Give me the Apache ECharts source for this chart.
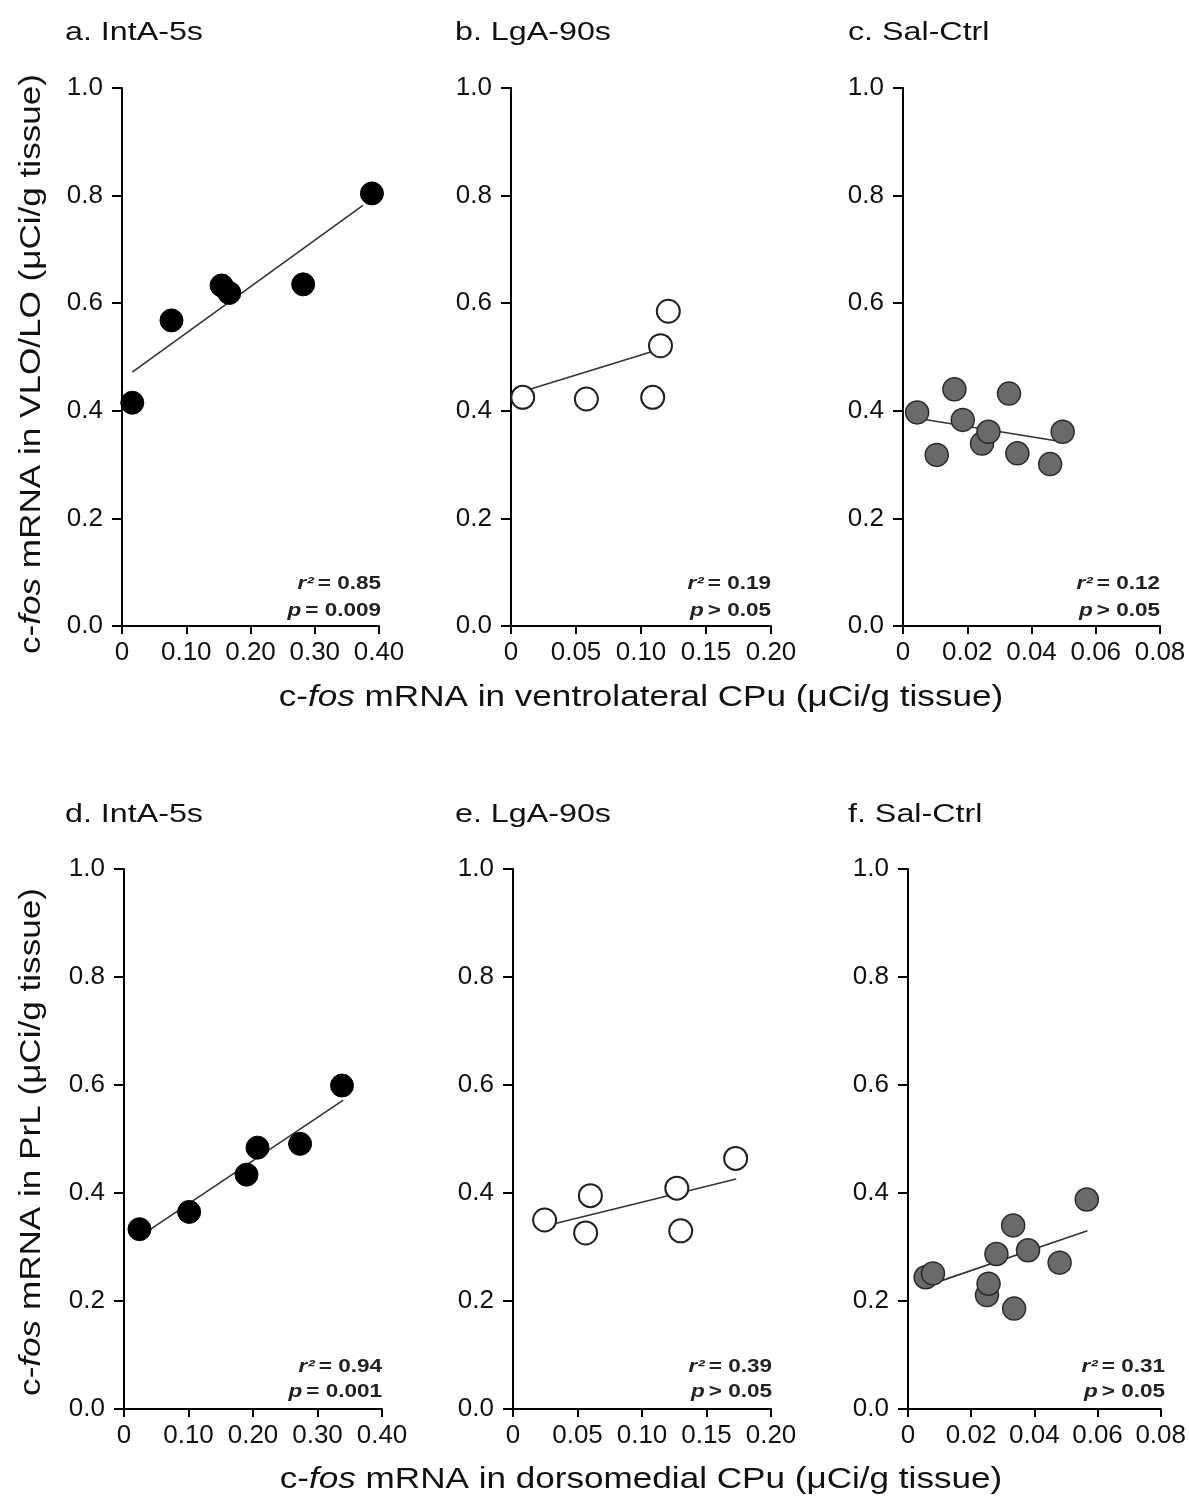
<!DOCTYPE html>
<html><head><meta charset="utf-8">
<script src="https://cdn.jsdelivr.net/npm/echarts@6/dist/echarts.min.js"></script>
<style>html,body{margin:0;padding:0;background:#fff}#c{width:1189px;height:1501px}</style>
</head><body><div id="c"></div>
<script>
// ---- data ----
const panelTitles = ['a. IntA-5s','b. LgA-90s','c. Sal-Ctrl','d. IntA-5s','e. LgA-90s','f. Sal-Ctrl'];
const yTitleTop = ['c-','fos',' mRNA in VLO/LO (μCi/g tissue)'];
const yTitleBottom = ['c-','fos',' mRNA in PrL (μCi/g tissue)'];
const xTitleTop = ['c-','fos',' mRNA in ventrolateral CPu (μCi/g tissue)'];
const xTitleBottom = ['c-','fos',' mRNA in dorsomedial CPu (μCi/g tissue)'];

const aX = [0.016,0.077,0.155,0.167,0.282,0.389];
const aY = [0.415,0.568,0.633,0.619,0.635,0.804];
const aFitX = [0.016,0.375], aFitY = [0.472,0.782];

const bX = [0.009,0.058,0.109,0.115,0.121];
const bY = [0.425,0.422,0.425,0.521,0.585];
const bFitX = [0.012,0.110], bFitY = [0.438,0.511];

const cX = [0.0044,0.0105,0.016,0.0186,0.0246,0.0266,0.033,0.0356,0.0458,0.0497];
const cY = [0.397,0.318,0.44,0.383,0.339,0.361,0.432,0.321,0.301,0.361];
const cFitX = [0.0044,0.049], cFitY = [0.386,0.343];

const dX = [0.024,0.101,0.190,0.207,0.273,0.338];
const dY = [0.333,0.365,0.434,0.484,0.491,0.599];
const dFitX = [0.035,0.34], dFitY = [0.328,0.572];

const eX = [0.0245,0.060,0.0563,0.127,0.130,0.1726];
const eY = [0.350,0.395,0.326,0.409,0.330,0.464];
const eFitX = [0.032,0.173], eFitY = [0.343,0.426];

const fX = [0.0056,0.0079,0.025,0.0255,0.028,0.0333,0.0336,0.038,0.048,0.0566];
const fY = [0.244,0.251,0.211,0.232,0.287,0.340,0.186,0.294,0.271,0.388];
const fFitX = [0.0058,0.0568], fFitY = [0.228,0.330];

const r2Vals = ['0.85','0.19','0.12','0.94','0.39','0.31'];
const pVals = ['= 0.009','> 0.05','> 0.05','= 0.001','> 0.05','> 0.05'];

const xMax = [0.4,0.2,0.08,0.4,0.2,0.08];
const xInt = [0.1,0.05,0.02,0.1,0.05,0.02];
const yMax = 1.0, yInt = 0.2;

// ---- layout ----
const FONT = '"Liberation Sans",Arial,sans-serif';
const grids = [
  {left:122,top:88,width:257,height:538},
  {left:511,top:88,width:260,height:538},
  {left:903,top:88,width:257,height:538},
  {left:124,top:869,width:258,height:540},
  {left:513,top:869,width:258,height:540},
  {left:908,top:869,width:257,height:540}
];
const panels = [[aX,aY,aFitX,aFitY],[bX,bY,bFitX,bFitY],[cX,cY,cFitX,cFitY],
                [dX,dY,dFitX,dFitY],[eX,eY,eFitX,eFitY],[fX,fY,fFitX,fFitY]];
const markerStyles = [
  {color:'#000',borderColor:'#000',borderWidth:1,opacity:1},
  {color:'#fff',borderColor:'#222',borderWidth:2,opacity:1},
  {color:'#6a6a6a',borderColor:'#2a2a2a',borderWidth:1.5,opacity:1}
];

const xAxes = [], yAxes = [], series = [];
for (let i=0;i<6;i++){
  xAxes.push({
    type:'value', gridIndex:i, min:0, max:xMax[i], interval:xInt[i],
    axisLine:{show:true,onZero:false,lineStyle:{color:'#000',width:2}},
    axisTick:{show:true,length:8,lineStyle:{color:'#000',width:2}},
    splitLine:{show:false},
    axisLabel:{margin:14,color:'#111',fontFamily:FONT,fontSize:26,
      formatter:v=> v===0 ? '0' : v.toFixed(2)}
  });
  yAxes.push({
    type:'value', gridIndex:i, min:0, max:yMax, interval:yInt,
    axisLine:{show:true,onZero:false,lineStyle:{color:'#000',width:2}},
    axisTick:{show:true,length:10,lineStyle:{color:'#000',width:2}},
    splitLine:{show:false},
    axisLabel:{margin:19,color:'#111',fontFamily:FONT,fontSize:26,
      formatter:v=> v.toFixed(1)}
  });
  const [px,py,fx,fy] = panels[i];
  series.push({
    type:'line', xAxisIndex:i, yAxisIndex:i, z:2, silent:true,
    data: fx.map((v,k)=>[v,fy[k]]), showSymbol:false, symbol:'none',
    lineStyle:{color:'#333',width:1.6}
  });
  series.push({
    type:'scatter', xAxisIndex:i, yAxisIndex:i, z:3, symbolSize:23,
    data: px.map((v,k)=>[v,py[k]]),
    itemStyle: markerStyles[i%3],
    emphasis:{disabled:true}
  });
}

const graphics = [];
const titlePos = [[65,33],[455,33],[848,33],[65,815],[455,815],[848,815]];
panelTitles.forEach((t,i)=>{
  graphics.push({type:'text',x:titlePos[i][0],y:titlePos[i][1],scaleX:1.24,
    style:{text:t,font:'26px '+FONT,fill:'#111',align:'left',verticalAlign:'middle'}});
});
// stats annotations
const annPos = [[381,584,611],[771,584,611],[1160,584,611],[382,1367,1392],[772,1367,1392],[1165,1367,1392]];
const annRich = {
  i:{fontFamily:FONT,fontStyle:'italic',fontSize:18,fontWeight:'bold',fill:'#222'},
  n:{fontFamily:FONT,fontSize:18,fontWeight:'bold',fill:'#222'}
};
r2Vals.forEach((r,i)=>{
  const [x,y1,y2] = annPos[i];
  graphics.push({type:'text',x:x,y:y1,scaleX:1.25,style:{text:'{i|r²} {n|= '+r+'}',rich:annRich,align:'right',verticalAlign:'middle'}});
  graphics.push({type:'text',x:x,y:y2,scaleX:1.25,style:{text:'{i|p} {n|'+pVals[i]+'}',rich:annRich,align:'right',verticalAlign:'middle'}});
});
// axis titles
const titleRich = {
  n:{fontFamily:FONT,fontSize:30,fill:'#111'},
  i:{fontFamily:FONT,fontSize:30,fontStyle:'italic',fill:'#111'}
};
function richText(parts){ return '{n|'+parts[0]+'}{i|'+parts[1]+'}{n|'+parts[2]+'}'; }
graphics.push({type:'text',x:32,y:364,rotation:Math.PI/2,scaleX:1.17,
  style:{text:richText(yTitleTop),rich:titleRich,align:'center',verticalAlign:'middle'}});
graphics.push({type:'text',x:32,y:1142,rotation:Math.PI/2,scaleX:1.17,
  style:{text:richText(yTitleBottom),rich:titleRich,align:'center',verticalAlign:'middle'}});
graphics.push({type:'text',x:641,y:698,scaleX:1.17,
  style:{text:richText(xTitleTop),rich:titleRich,align:'center',verticalAlign:'middle'}});
graphics.push({type:'text',x:641,y:1480,scaleX:1.17,
  style:{text:richText(xTitleBottom),rich:titleRich,align:'center',verticalAlign:'middle'}});

const chart = echarts.init(document.getElementById('c'),null,{renderer:'canvas'});
chart.setOption({
  animation:false,
  backgroundColor:'#fff',
  grid:grids,
  xAxis:xAxes,
  yAxis:yAxes,
  series:series,
  graphic:graphics
});
</script></body></html>
